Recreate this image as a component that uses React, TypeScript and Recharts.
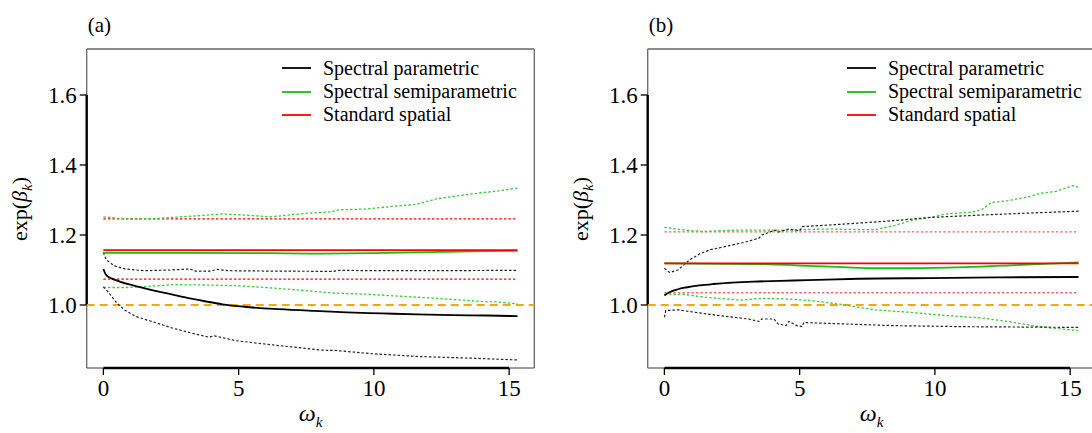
import React from "react";
import { LineChart, Line, XAxis, YAxis, ReferenceLine } from "recharts";

const FONT = '"Liberation Serif", "Times New Roman", serif';

const xTicks = [0, 5, 10, 15];
const yTicks = [1.0, 1.2, 1.4, 1.6];
const legendNames = ["Spectral parametric", "Spectral semiparametric", "Standard spatial"];

// panel (a): [omega, exp(beta)]
const aParam = [[0, 1.103], [0.1, 1.086], [0.3, 1.076], [0.6, 1.067], [1.0, 1.058], [1.5, 1.048], [2.0, 1.039], [2.6, 1.029], [3.2, 1.019], [3.8, 1.01], [4.4, 1.002], [5.2, 0.995], [6.5, 0.988], [7.8, 0.983], [9.0, 0.979], [10.3, 0.976], [11.6, 0.973], [12.9, 0.971], [14.2, 0.97], [15.31, 0.968]];
const aParamUp = [[0, 1.15], [0.1, 1.13], [0.4, 1.112], [0.8, 1.103], [1.5, 1.098], [2.5, 1.1], [3.2, 1.103], [3.4, 1.097], [4.0, 1.097], [4.2, 1.102], [4.6, 1.098], [6.0, 1.097], [8.5, 1.096], [8.7, 1.099], [10, 1.098], [12, 1.098], [15.31, 1.099]];
const aParamLo = [[0, 1.052], [0.2, 1.035], [0.5, 1.005], [0.8, 0.985], [1.2, 0.967], [1.7, 0.955], [2.2, 0.943], [2.6, 0.933], [3.4, 0.917], [3.9, 0.908], [4.1, 0.912], [4.9, 0.898], [6.5, 0.884], [8.1, 0.871], [8.6, 0.87], [9.9, 0.861], [11.6, 0.853], [13.6, 0.848], [15.31, 0.843]];
const aSemi = [[0, 1.149], [3, 1.149], [6, 1.148], [8, 1.147], [10, 1.148], [12, 1.151], [14, 1.154], [15.31, 1.155]];
const aSemiUp = [[0, 1.252], [0.5, 1.248], [1, 1.246], [2, 1.247], [2.5, 1.25], [3.5, 1.255], [4.4, 1.26], [5.2, 1.257], [6.2, 1.252], [7.5, 1.262], [8.4, 1.266], [8.7, 1.272], [9.7, 1.274], [10.6, 1.281], [11.6, 1.288], [12.3, 1.303], [12.9, 1.31], [13.9, 1.32], [14.6, 1.326], [15.31, 1.334]];
const aSemiLo = [[0, 1.05], [0.9, 1.05], [2.0, 1.055], [2.6, 1.058], [3.9, 1.057], [5, 1.055], [6, 1.05], [7.5, 1.041], [8.5, 1.034], [9.7, 1.031], [11, 1.025], [12.3, 1.019], [13.6, 1.012], [14.2, 1.009], [14.4, 1.01], [15.31, 1.003]];
const aStd = [[0, 1.157], [15.31, 1.157]];
const aStdUp = [[0, 1.246], [15.31, 1.246]];
const aStdLo = [[0, 1.074], [15.31, 1.074]];

// panel (b)
const bParam = [[0, 1.027], [0.2, 1.037], [0.5, 1.045], [0.8, 1.05], [1.3, 1.056], [1.8, 1.06], [2.5, 1.064], [3.3, 1.067], [4.3, 1.069], [5.3, 1.071], [7.2, 1.075], [9.8, 1.077], [12.4, 1.079], [15.31, 1.08]];
const bParamUp = [[0, 1.105], [0.1, 1.098], [0.2, 1.093], [0.5, 1.1], [0.9, 1.127], [1.3, 1.146], [1.7, 1.158], [2.3, 1.168], [2.95, 1.179], [3.5, 1.191], [3.6, 1.2], [4.1, 1.214], [4.2, 1.208], [4.6, 1.217], [5.0, 1.212], [5.1, 1.224], [6.6, 1.231], [8.5, 1.241], [9.8, 1.25], [11.7, 1.257], [13.6, 1.263], [15.31, 1.268]];
const bParamLo = [[0, 0.965], [0.05, 0.984], [0.5, 0.986], [1.15, 0.979], [2.0, 0.97], [3.1, 0.96], [3.5, 0.953], [3.6, 0.96], [4.05, 0.96], [4.2, 0.946], [4.5, 0.941], [4.6, 0.953], [4.9, 0.941], [5.1, 0.938], [5.15, 0.95], [6.6, 0.946], [8.5, 0.941], [11.1, 0.938], [15.31, 0.936]];
const bSemi = [[0, 1.119], [3.3, 1.117], [5.3, 1.112], [6.6, 1.108], [7.8, 1.105], [9.1, 1.105], [11.1, 1.108], [13, 1.114], [15.31, 1.122]];
const bSemiUp = [[0, 1.222], [0.76, 1.214], [1.4, 1.21], [2.7, 1.214], [4.6, 1.214], [5.9, 1.217], [7.8, 1.215], [8.5, 1.227], [9.1, 1.241], [9.8, 1.25], [10.4, 1.26], [11.3, 1.265], [11.7, 1.271], [12.1, 1.293], [12.7, 1.298], [13.4, 1.308], [13.9, 1.319], [14.5, 1.325], [15.1, 1.341], [15.31, 1.336]];
const bSemiLo = [[0, 1.031], [0.76, 1.03], [1.5, 1.022], [2.8, 1.014], [3.6, 1.019], [4.6, 1.017], [5.5, 1.012], [6.6, 1.001], [7.2, 0.993], [7.8, 0.986], [9.1, 0.979], [9.8, 0.974], [10.4, 0.97], [11.7, 0.963], [12.7, 0.953], [13.6, 0.941], [14.3, 0.934], [15.31, 0.927]];
const bStd = [[0, 1.119], [15.31, 1.119]];
const bStdUp = [[0, 1.209], [15.31, 1.209]];
const bStdLo = [[0, 1.035], [15.31, 1.035]];

const X_MIN = -0.617;
const X_MAX = 15.93;
const Y_MIN = 0.82;
const Y_MAX = 1.7314;

const BLACK = "#000000";
const GREEN = "#12c012";
const GREEN_DOT = "#3acc3a";
const RED = "#ff0000";
const DOT = "2.5 2";

const toPts = (arr: number[][]) => arr.map(([x, y]) => ({ x, y }));

type Series = { key: string; pts: number[][]; color: string; width: number; dash?: string; curve?: "linear" | "monotone" };

function makeSeries(p: number[][], pu: number[][], pl: number[][], s: number[][], su: number[][], sl: number[][], r: number[][], ru: number[][], rl: number[][], redDot: string): Series[] {
  return [
    { key: "ru", pts: ru, color: redDot, width: 1.3, dash: DOT },
    { key: "rl", pts: rl, color: redDot, width: 1.3, dash: DOT },
    { key: "su", pts: su, color: GREEN_DOT, width: 1.3, dash: DOT },
    { key: "sl", pts: sl, color: GREEN_DOT, width: 1.3, dash: DOT },
    { key: "pu", pts: pu, color: "#222", width: 1.2, dash: DOT },
    { key: "pl", pts: pl, color: "#222", width: 1.2, dash: DOT },
    { key: "s", pts: s, color: GREEN, width: 1.8, curve: "monotone" },
    { key: "r", pts: r, color: RED, width: 1.8 },
    { key: "p", pts: p, color: BLACK, width: 1.8, curve: "monotone" },
  ];
}

const seriesA = makeSeries(aParam, aParamUp, aParamLo, aSemi, aSemiUp, aSemiLo, aStd, aStdUp, aStdLo, RED);
const seriesB = makeSeries(bParam, bParamUp, bParamLo, bSemi, bSemiUp, bSemiLo, bStd, bStdUp, bStdLo, "#f06a6a");

const W = 546;
const H = 433;
const PLOT_L = 86.7;
const PLOT_R = 534.3;
const PLOT_T = 49;
const PLOT_B = 368;

const tickStyle = { fontSize: 23, fill: "#000", fontFamily: FONT };

// gray box pieces (leaving room for the black axis pieces) and black R-style axes
const frame = [
  [[X_MIN, Y_MIN], [0, Y_MIN]],
  [[15, Y_MIN], [X_MAX, Y_MIN]],
  [[X_MIN, Y_MAX], [X_MAX, Y_MAX]],
  [[X_MIN, Y_MIN], [X_MIN, 1.0]],
  [[X_MIN, 1.6], [X_MIN, Y_MAX]],
  [[X_MAX, Y_MIN], [X_MAX, Y_MAX]],
];
const axes = [
  [[0, Y_MIN], [15, Y_MIN]],
  [[X_MIN, 1.0], [X_MIN, 1.6]],
];

function Panel({ left, title, series, legendLeft }: { left: number; title: string; series: Series[]; legendLeft: number }) {
  return (
    <div style={{ position: "absolute", left, top: 0, width: W, height: H, fontFamily: FONT, color: "#000" }}>
      <LineChart width={W} height={H} margin={{ top: PLOT_T, right: W - PLOT_R, bottom: 0, left: 0 }}>
        <XAxis
          dataKey="x"
          type="number"
          domain={[X_MIN, X_MAX]}
          ticks={xTicks}
          allowDataOverflow
          axisLine={false}
          tickLine={{ stroke: "#000", strokeWidth: 1.3 }}
          tickSize={7}
          tickMargin={5}
          tick={tickStyle}
          height={H - PLOT_B}
        />
        <YAxis
          type="number"
          domain={[Y_MIN, Y_MAX]}
          ticks={yTicks}
          allowDataOverflow
          axisLine={false}
          tickLine={{ stroke: "#000", strokeWidth: 1.3 }}
          tickSize={7}
          tickMargin={3}
          tick={tickStyle}
          tickFormatter={(v: number) => v.toFixed(1)}
          width={PLOT_L}
        />
        {frame.map((seg, i) => (
          <ReferenceLine
            key={"f" + i}
            segment={[{ x: seg[0][0], y: seg[0][1] }, { x: seg[1][0], y: seg[1][1] }]}
            stroke="#666"
            strokeWidth={1.3}
            ifOverflow="visible"
          />
        ))}
        {axes.map((seg, i) => (
          <ReferenceLine
            key={"a" + i}
            segment={[{ x: seg[0][0], y: seg[0][1] }, { x: seg[1][0], y: seg[1][1] }]}
            stroke="#000"
            strokeWidth={2.4}
            ifOverflow="visible"
          />
        ))}
        <ReferenceLine y={1} stroke="#ffa500" strokeWidth={2} strokeDasharray="8 5" />
        {series.map((s) => (
          <Line
            key={s.key}
            data={toPts(s.pts)}
            dataKey="y"
            type={s.curve ?? "linear"}
            stroke={s.color}
            strokeWidth={s.width}
            strokeDasharray={s.dash}
            dot={false}
            activeDot={false}
            isAnimationActive={false}
          />
        ))}
      </LineChart>

      <div style={{ position: "absolute", left: PLOT_L + 1, top: 15, fontSize: 21, lineHeight: "21px" }}>{title}</div>

      <div
        style={{
          position: "absolute",
          left: 20,
          top: (PLOT_T + PLOT_B) / 2,
          transform: "translate(-50%, -50%) rotate(-90deg)",
          fontSize: 22,
          lineHeight: 1,
          whiteSpace: "nowrap",
        }}
      >
        exp(<i>β</i>
        <sub style={{ fontSize: 15, lineHeight: 0 }}>
          <i>k</i>
        </sub>
        )
      </div>

      <div
        style={{
          position: "absolute",
          left: (PLOT_L + PLOT_R) / 2,
          top: 413,
          transform: "translate(-50%, -50%)",
          fontSize: 24,
          lineHeight: 1,
          whiteSpace: "nowrap",
        }}
      >
        <i>ω</i>
        <sub style={{ fontSize: 15, lineHeight: 0 }}>
          <i>k</i>
        </sub>
      </div>

      <div style={{ position: "absolute", left: legendLeft, top: 56.7 }}>
        {legendNames.map((name, i) => (
          <div key={name} style={{ display: "flex", alignItems: "center", height: 23.3, fontSize: 20, whiteSpace: "nowrap" }}>
            <svg width={29} height={4} style={{ marginRight: 12 }}>
              <line x1={0} y1={2} x2={29} y2={2} stroke={[BLACK, GREEN, RED][i]} strokeWidth={1.8} />
            </svg>
            <span>{name}</span>
          </div>
        ))}
      </div>
    </div>
  );
}

export default function App() {
  return (
    <div style={{ position: "fixed", left: 0, top: 0, width: 1092, height: 433, overflow: "hidden", background: "#fff" }}>
      <Panel left={0} title="(a)" series={seriesA} legendLeft={282} />
      <Panel left={561} title="(b)" series={seriesB} legendLeft={847 - 561} />
    </div>
  );
}
